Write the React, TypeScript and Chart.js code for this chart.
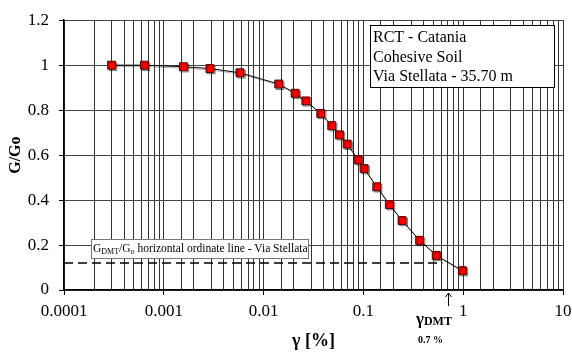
import React, { useEffect, useRef } from "react";
import { Chart, registerables } from "chart.js";

Chart.register(...registerables);

const gammaPct = [0.0003, 0.00064, 0.00157, 0.0029, 0.0058, 0.0142, 0.0207, 0.0265, 0.0374, 0.0482, 0.0575, 0.0687, 0.0885, 0.1016, 0.136, 0.182, 0.244, 0.366, 0.537, 0.98];
const gOverGo = [1.0, 1.0, 0.993, 0.985, 0.966, 0.916, 0.875, 0.841, 0.785, 0.731, 0.69, 0.649, 0.579, 0.54, 0.459, 0.38, 0.309, 0.221, 0.154, 0.086];
const gdmtRatio = 0.12;
const dashedRange = [0.0001, 0.62];
const gammaDMT = 0.7;
const xMin = 0.0001;
const xMax = 10;
const yMin = 0;
const yMax = 1.2;
const yStep = 0.2;
const boxLines = ["RCT - Catania", "Cohesive Soil", "Via Stellata - 35.70 m"];

const SERIF = "'Liberation Serif', 'Times New Roman', serif";

const isDecade = (v: number) => {
  const l = Math.log10(v);
  return Math.abs(l - Math.round(l)) < 1e-6;
};

const shadow = {
  id: "shadow",
  beforeDatasetDraw(chart: any, args: any) {
    if (args.index !== 0) return;
    const ctx = chart.ctx as CanvasRenderingContext2D;
    ctx.save();
    ctx.shadowColor = "rgba(0,0,0,0.3)";
    ctx.shadowOffsetX = 1.5;
    ctx.shadowOffsetY = 1.5;
    ctx.shadowBlur = 0.5;
  },
  afterDatasetDraw(chart: any, args: any) {
    if (args.index !== 0) return;
    chart.ctx.restore();
  },
};

const overlay = {
  id: "overlay",
  afterDraw(chart: any) {
    const ctx = chart.ctx as CanvasRenderingContext2D;
    const xs = chart.scales.x;
    const area = chart.chartArea;
    ctx.save();

    // annotation box
    ctx.fillStyle = "#fff";
    ctx.strokeStyle = "#000";
    ctx.lineWidth = 1;
    ctx.fillRect(370, 25, 184, 62);
    ctx.strokeRect(370.5, 25.5, 184, 62);
    ctx.fillStyle = "#000";
    ctx.font = `16px ${SERIF}`;
    ctx.textBaseline = "middle";
    ctx.textAlign = "left";
    boxLines.forEach((t, i) => ctx.fillText(t, 373, 38 + i * 19.5));

    // legend box for dashed line
    ctx.fillStyle = "#fff";
    ctx.fillRect(91, 239, 217, 19);
    ctx.strokeStyle = "#777";
    ctx.strokeRect(91.5, 239.5, 217, 19);
    ctx.fillStyle = "#000";
    const big = 11.5;
    const small = 8;
    let x = 93;
    const by = 249;
    const parts: [string, boolean][] = [
      ["G", false], ["DMT", true], ["/G", false], ["o", true], [" horizontal ordinate line - Via Stellata", false],
    ];
    parts.forEach(([t, sub]) => {
      ctx.font = `${sub ? small : big}px ${SERIF}`;
      ctx.fillText(t, x, sub ? by + 3 : by);
      x += ctx.measureText(t).width;
    });

    // arrow at gamma DMT
    const ax = Math.round(xs.getPixelForValue(gammaDMT)) + 0.5;
    ctx.strokeStyle = "#000";
    ctx.lineWidth = 1;
    ctx.beginPath();
    ctx.moveTo(ax, area.bottom + 3);
    ctx.lineTo(ax, area.bottom + 16);
    ctx.moveTo(ax - 3, area.bottom + 7);
    ctx.lineTo(ax, area.bottom + 3);
    ctx.lineTo(ax + 3, area.bottom + 7);
    ctx.stroke();

    // gamma DMT label
    ctx.fillStyle = "#000";
    ctx.textAlign = "left";
    ctx.font = `bold 17px ${SERIF}`;
    let gx = 416;
    ctx.fillText("γ", gx, 320);
    gx += ctx.measureText("γ").width;
    ctx.font = `bold 12px ${SERIF}`;
    ctx.fillText("DMT", gx, 322);
    ctx.font = `bold 10px ${SERIF}`;
    ctx.fillText("0.7 %", 418, 340);

    // x title
    ctx.font = `bold 18px ${SERIF}`;
    ctx.textAlign = "center";
    ctx.fillText("γ [%]", (area.left + area.right) / 2, 341);

    // y title
    ctx.save();
    ctx.translate(16, (area.top + area.bottom) / 2);
    ctx.rotate(-Math.PI / 2);
    ctx.font = `bold 16px ${SERIF}`;
    ctx.textAlign = "center";
    ctx.fillText("G/Go", 0, 0);
    ctx.restore();

    ctx.restore();
  },
};

export default function App() {
  const ref = useRef<HTMLCanvasElement | null>(null);
  useEffect(() => {
    document.body.style.margin = "0";
    const canvas = ref.current!;
    const chart = new Chart(canvas, {
      type: "scatter",
      data: {
        datasets: [
          {
            data: gammaPct.map((g, i) => ({ x: g, y: gOverGo[i] })),
            showLine: true,
            borderColor: "#000",
            borderWidth: 1,
            pointStyle: "rect",
            pointRadius: 5.6,
            pointBackgroundColor: "#ff0000",
            pointBorderColor: "#500",
            pointBorderWidth: 1,
            tension: 0,
          },
          {
            data: dashedRange.map((g) => ({ x: g, y: gdmtRatio })),
            showLine: true,
            borderColor: "#000",
            borderWidth: 1.4,
            borderDash: [9, 5],
            pointRadius: 0,
          },
        ],
      },
      plugins: [shadow, overlay],
      options: {
        animation: false,
        responsive: true,
        maintainAspectRatio: false,
        layout: { padding: { left: 0, top: 15, right: 9, bottom: 0 } },
        plugins: { legend: { display: false }, tooltip: { enabled: false } },
        scales: {
          x: {
            type: "logarithmic",
            min: xMin,
            max: xMax,
            afterFit: (s: any) => {
              s.height = 62;
              s.paddingLeft = 0;
              s.paddingRight = 0;
            },
            border: { color: "#000", width: 1.5 },
            grid: {
              color: "#333",
              lineWidth: 1,
              tickLength: 5,
              tickColor: (c: any) => (c.tick && isDecade(c.tick.value) ? "#000" : "rgba(0,0,0,0)"),
            },
            ticks: {
              autoSkip: false,
              maxRotation: 0,
              minRotation: 0,
              padding: 6,
              color: "#000",
              font: { family: SERIF, size: 17 },
              callback: (v: any) => (isDecade(Number(v)) ? String(Number(v)) : ""),
            },
          },
          y: {
            min: yMin,
            max: yMax,
            afterFit: (s: any) => {
              s.width = 64;
            },
            border: { color: "#000", width: 1.5 },
            grid: { color: "#444", lineWidth: 1, tickLength: 5, tickColor: "#000" },
            ticks: {
              stepSize: yStep,
              padding: 10,
              color: "#000",
              font: { family: SERIF, size: 17 },
              callback: (v: any) => String(Math.round(Number(v) * 10) / 10),
            },
          },
        },
      },
    });
    return () => chart.destroy();
  }, []);
  return (
    <div style={{ position: "relative", width: 572, height: 352 }}>
      <canvas ref={ref} />
    </div>
  );
}
